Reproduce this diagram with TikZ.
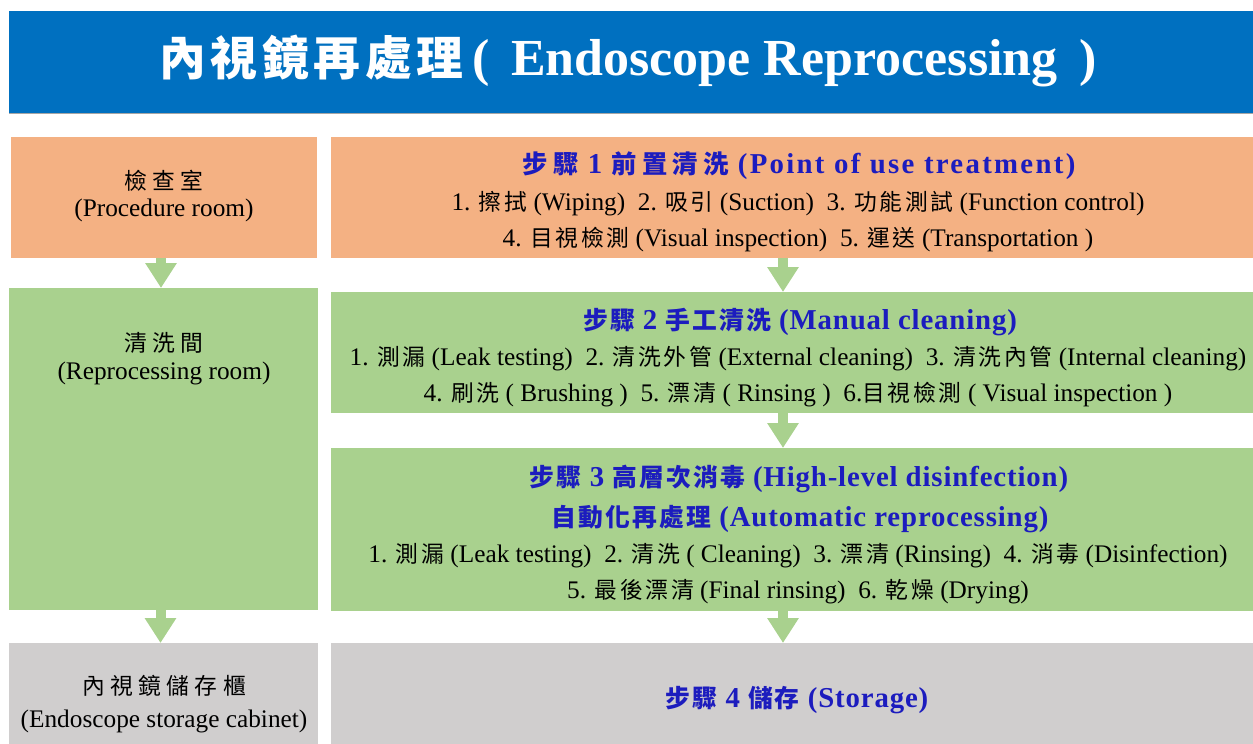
\documentclass[tikz,border=0pt]{standalone}
\usepackage{fontspec}
\setmainfont{Liberation Serif}
\newfontfamily\cjk[Scale=0.9,LetterSpace=12]{Noto Sans CJK TC}
\newfontfamily\cjkw[Scale=0.9,LetterSpace=24]{Noto Sans CJK TC}
\newfontfamily\hzh[Scale=0.86,LetterSpace=9]{Noto Sans CJK TC}
\newfontfamily\hzhw[Scale=0.88,LetterSpace=20]{Noto Sans CJK TC}
\newfontfamily\tzh[Scale=0.9,LetterSpace=10]{Noto Sans CJK TC}
\usetikzlibrary{arrows.meta}
\definecolor{titleblue}{RGB}{0,112,192}
\definecolor{orangeC}{RGB}{244,177,131}
\definecolor{greenC}{RGB}{169,209,142}
\definecolor{greyC}{RGB}{208,206,206}
\definecolor{headblue}{RGB}{28,28,190}
\newcommand\zh[1]{{\cjk #1}}
\newcommand\zhw[1]{{\cjkw #1}}
\newcommand\hz[1]{{\hzh #1}}
\newcommand\hzw[1]{{\hzhw #1}}
\begin{document}
\begin{tikzpicture}[x=1pt,y=-1pt,
  box/.style={rectangle,inner sep=0pt,outer sep=0pt,anchor=north west,draw=none},
  body/.style={inner sep=0pt,font=\fontsize{25.3}{30}\selectfont,text=black},
  head/.style={inner sep=0pt,font=\fontsize{28.8}{32}\selectfont\bfseries\addfontfeatures{LetterSpace=3},text=headblue},
  arr/.style={draw=greenC,line width=10pt,-{Triangle[width=30pt,length=25pt]}}]
\useasboundingbox (0,0) rectangle (1253,744);
% title
\node[box,fill=titleblue,minimum width=1244pt,minimum height=102pt] (T) at (9,11) {};
\draw[gray!70,line width=1pt] (T.south west) -- (T.south east);
\node[inner sep=0pt,text=white,font=\fontsize{52}{58}\selectfont\bfseries] (tt) at (628,61)
  {{\tzh 內視鏡再處理}\,(\, Endoscope Reprocessing\, )};
% boxes
\node[box,fill=orangeC,minimum width=306pt,minimum height=121pt] (L1) at (11,137) {};
\node[box,fill=orangeC,minimum width=922pt,minimum height=121pt] (R1) at (331,137) {};
\node[box,fill=greenC,minimum width=309pt,minimum height=322pt] (L2) at (9,288) {};
\node[box,fill=greenC,minimum width=922pt,minimum height=121pt] (R2) at (331,292) {};
\node[box,fill=greenC,minimum width=922pt,minimum height=163pt] (R3) at (331,448) {};
\node[box,fill=greyC,minimum width=309pt,minimum height=101pt] (L3) at (9,643) {};
\node[box,fill=greyC,minimum width=922pt,minimum height=101pt] (R4) at (331,643) {};
% arrows
\coordinate (la) at ([xshift=-3pt]L1.south);
\draw[arr] (la) -- (la |- L2.north);
\coordinate (lb) at ([xshift=-3pt]L2.south);
\draw[arr] (lb) -- (lb |- L3.north);
\coordinate (ra) at ([xshift=-9pt]R1.south);
\draw[arr] (ra) -- (ra |- R2.north);
\coordinate (rb) at ([xshift=-9pt]R2.south);
\draw[arr] (rb) -- (rb |- R3.north);
\coordinate (rc) at ([xshift=-9pt]R3.south);
\draw[arr] (rc) -- (rc |- R4.north);
% left labels
\node[body] (l1a) at (164,181) {\zhw{檢查室}};
\node[body] (l1b) at (164,210) {(Procedure room)};
\node[body] (l2a) at (164,343) {\zhw{清洗間}};
\node[body] (l2b) at (164,373) {(Reprocessing room)};
\node[body] (l3a) at (164,686) {\zhw{內視鏡儲存櫃}};
\node[body] (l3b) at (164,721) {(Endoscope storage cabinet)};
% step 1
\node[head,font=\fontsize{28.8}{32}\selectfont\bfseries\addfontfeatures{LetterSpace=8}] (h1) at (799,166)
  {\hzw{步驟} 1 \hzw{前置清洗} (Point of use treatment)};
\node[body] (s1a) at (798,204) {1. \zh{擦拭} (Wiping)~ 2. \zh{吸引} (Suction)~ 3. \zh{功能測試} (Function control)};
\node[body] (s1b) at (798,240) {4. \zh{目視檢測} (Visual inspection)~ 5. \zh{運送} (Transportation )};
% step 2
\node[head] (h2) at (800,322) {\hz{步驟} 2 \hz{手工清洗} (Manual cleaning)};
\node[body] (s2a) at (798,359) {1. \zh{測漏} (Leak testing)~ 2. \zh{清洗外管} (External cleaning)~ 3. \zh{清洗內管} (Internal cleaning)};
\node[body] (s2b) at (798,395) {4. \zh{刷洗} ( Brushing )~ 5. \zh{漂清} ( Rinsing )~ 6.\zh{目視檢測} ( Visual inspection )};
% step 3
\node[head] (h3a) at (799,479) {\hz{步驟} 3 \hz{高層次消毒} (High-level disinfection)};
\node[head] (h3b) at (800,519) {\hz{自動化再處理} (Automatic reprocessing)};
\node[body] (s3a) at (798,556) {1. \zh{測漏} (Leak testing)~ 2. \zh{清洗} ( Cleaning)~ 3. \zh{漂清} (Rinsing)~ 4. \zh{消毒} (Disinfection)};
\node[body] (s3b) at (798,592) {5. \zh{最後漂清} (Final rinsing)~ 6. \zh{乾燥} (Drying)};
% step 4
\node[head] (h4) at (797,700) {\hz{步驟} 4 \hz{儲存} (Storage)};
\end{tikzpicture}
\end{document}
